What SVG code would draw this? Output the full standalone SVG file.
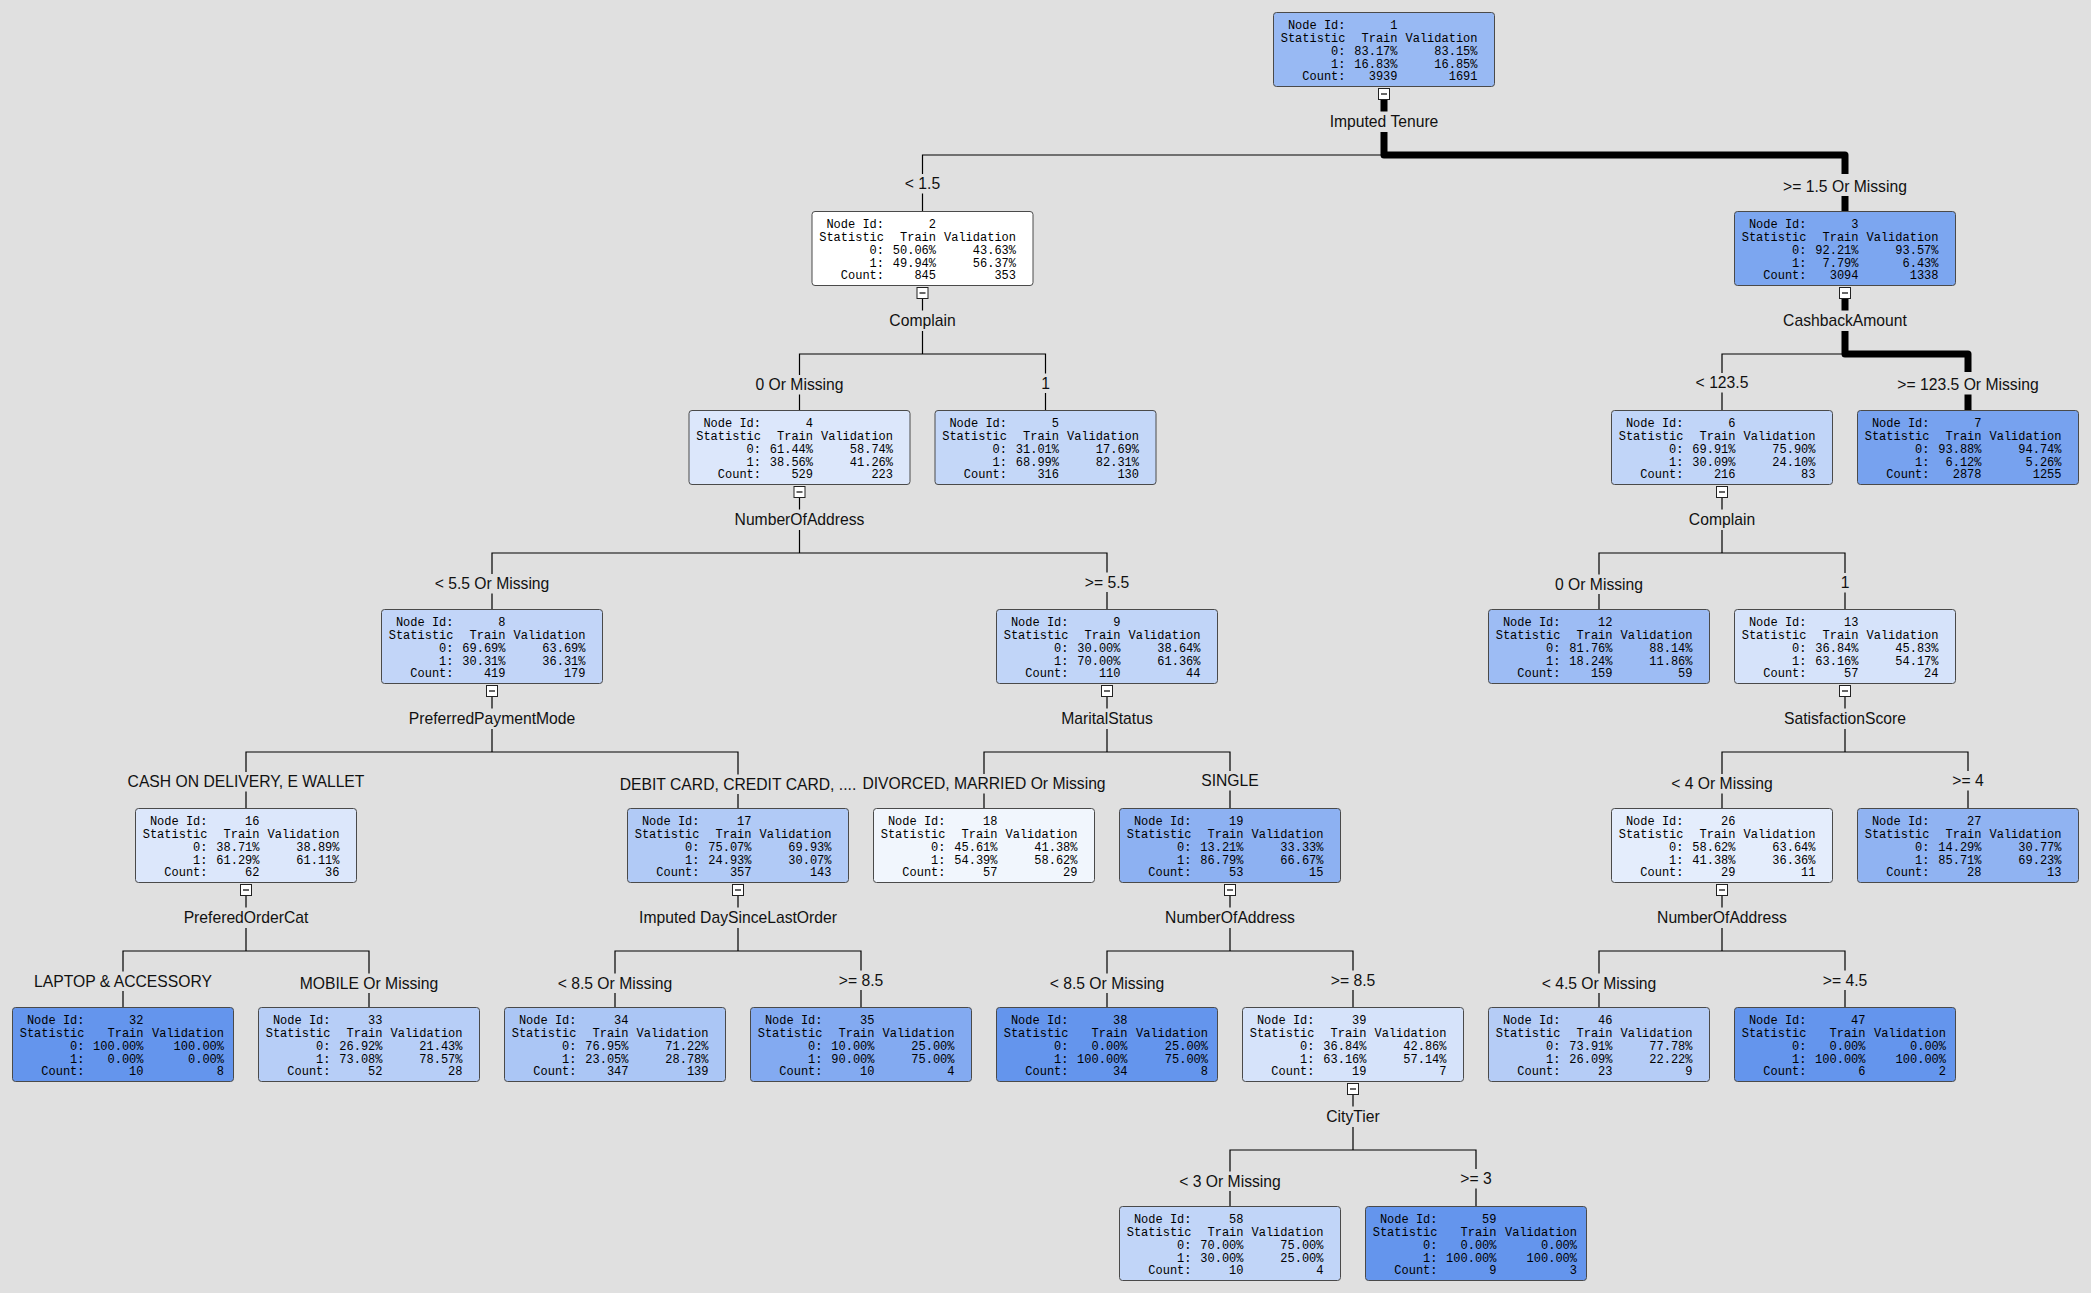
<svg xmlns="http://www.w3.org/2000/svg" width="2091" height="1293" viewBox="0 0 2091 1293">
<style>
.bg{fill:#e0e0e0}
.box{stroke:#4a4a4a;stroke-width:1}
.m{font-family:"Liberation Mono","DejaVu Sans Mono",monospace;font-size:12px;text-anchor:end;fill:#000}
.lbl{font-family:"Liberation Sans",Arial,sans-serif;font-size:15.7px;text-anchor:middle;fill:#111}
.ln{fill:none;stroke:#000;stroke-width:1.2}
.bold{fill:none;stroke:#000;stroke-width:7;stroke-linejoin:round}
.ic{fill:#fff;stroke:#222;stroke-width:1}
.icm{stroke:#000;stroke-width:1.2}
</style>
<rect class="bg" x="0" y="0" width="2091" height="1293"/>

<g id="connectors">
<path class="ln" d="M922.5,174 V155 H1384 M922.5,193.5 V211"/>
<path class="bold" d="M1384,99 V111.5 M1384,132 V155 H1845 V174 M1845,196 V211"/>
<path class="ln" d="M922.5,298 V310.5 M922.5,331 V354 M799.5,375 V354 H1045.5 V373.5 M799.5,394.5 V410 M1045.5,393 V410"/>
<path class="ln" d="M1722,373 V354 H1845 M1722,392.5 V410"/>
<path class="bold" d="M1845,298 V310.5 M1845,331 V354 H1968 V372 M1968,394.5 V410"/>
<path class="ln" d="M799.5,497 V509.5 M799.5,530 V553 M492,574 V553 H1107 V572.5 M492,593.5 V609 M1107,592 V609"/>
<path class="ln" d="M1722,497 V509.5 M1722,530 V553 M1599,574.5 V553 H1845 V573 M1599,594 V609 M1845,592.5 V609"/>
<path class="ln" d="M492,696 V708.5 M492,729 V752 M246,772 V752 H738 V774.5 M246,791.5 V808 M738,794 V808"/>
<path class="ln" d="M1107,696 V708.5 M1107,729 V752 M984,774 V752 H1230 V771 M984,793.5 V808 M1230,790.5 V808"/>
<path class="ln" d="M1845,696 V708.5 M1845,729 V752 M1722,774 V752 H1968 V771 M1722,793.5 V808 M1968,790.5 V808"/>
<path class="ln" d="M246,895 V907.5 M246,928 V951 M123,971.5 V951 H369 V973.5 M123,991 V1007 M369,993 V1007"/>
<path class="ln" d="M738,895 V907.5 M738,928 V951 M615,973.5 V951 H861 V970.5 M615,993 V1007 M861,990 V1007"/>
<path class="ln" d="M1230,895 V907.5 M1230,928 V951 M1107,973.5 V951 H1353 V970.5 M1107,993 V1007 M1353,990 V1007"/>
<path class="ln" d="M1722,895 V907.5 M1722,928 V951 M1599,973.5 V951 H1845 V970.5 M1599,993 V1007 M1845,990 V1007"/>
<path class="ln" d="M1353,1094 V1106.5 M1353,1127 V1150 M1230,1171.5 V1150 H1476 V1169 M1230,1191 V1206 M1476,1188.5 V1206"/>
</g>

<g id="labels">
<text class="lbl" x="1384" y="127">Imputed Tenure</text>
<text class="lbl" x="922.5" y="189">&lt; 1.5</text>
<text class="lbl" x="1845" y="191.5">&gt;= 1.5 Or Missing</text>
<text class="lbl" x="922.5" y="326">Complain</text>
<text class="lbl" x="799.5" y="390">0 Or Missing</text>
<text class="lbl" x="1045.5" y="388.5">1</text>
<text class="lbl" x="1845" y="326">CashbackAmount</text>
<text class="lbl" x="1722" y="388">&lt; 123.5</text>
<text class="lbl" x="1968" y="390">&gt;= 123.5 Or Missing</text>
<text class="lbl" x="799.5" y="525">NumberOfAddress</text>
<text class="lbl" x="492" y="589">&lt; 5.5 Or Missing</text>
<text class="lbl" x="1107" y="587.5">&gt;= 5.5</text>
<text class="lbl" x="1722" y="525">Complain</text>
<text class="lbl" x="1599" y="589.5">0 Or Missing</text>
<text class="lbl" x="1845" y="588">1</text>
<text class="lbl" x="492" y="724">PreferredPaymentMode</text>
<text class="lbl" x="246" y="787">CASH ON DELIVERY, E WALLET</text>
<text class="lbl" x="738" y="789.5">DEBIT CARD, CREDIT CARD, ....</text>
<text class="lbl" x="1107" y="724">MaritalStatus</text>
<text class="lbl" x="984" y="789">DIVORCED, MARRIED Or Missing</text>
<text class="lbl" x="1230" y="786">SINGLE</text>
<text class="lbl" x="1845" y="724">SatisfactionScore</text>
<text class="lbl" x="1722" y="789">&lt; 4 Or Missing</text>
<text class="lbl" x="1968" y="786">&gt;= 4</text>
<text class="lbl" x="246" y="923">PreferedOrderCat</text>
<text class="lbl" x="123" y="986.5">LAPTOP &amp; ACCESSORY</text>
<text class="lbl" x="369" y="988.5">MOBILE Or Missing</text>
<text class="lbl" x="738" y="923">Imputed DaySinceLastOrder</text>
<text class="lbl" x="615" y="988.5">&lt; 8.5 Or Missing</text>
<text class="lbl" x="861" y="985.5">&gt;= 8.5</text>
<text class="lbl" x="1230" y="923">NumberOfAddress</text>
<text class="lbl" x="1107" y="988.5">&lt; 8.5 Or Missing</text>
<text class="lbl" x="1353" y="985.5">&gt;= 8.5</text>
<text class="lbl" x="1722" y="923">NumberOfAddress</text>
<text class="lbl" x="1599" y="988.5">&lt; 4.5 Or Missing</text>
<text class="lbl" x="1845" y="985.5">&gt;= 4.5</text>
<text class="lbl" x="1353" y="1122">CityTier</text>
<text class="lbl" x="1230" y="1186.5">&lt; 3 Or Missing</text>
<text class="lbl" x="1476" y="1184">&gt;= 3</text>
</g>

<g id="node-1" transform="translate(1273,12)">
<rect class="box" x="0.5" y="0.5" width="221" height="74" rx="3" fill="rgb(152,185,243)"/>
<text class="m"><tspan x="72.5" y="16.8">Node Id:</tspan><tspan x="72.5" y="29.7">Statistic</tspan><tspan x="72.5" y="42.6">0:</tspan><tspan x="72.5" y="55.5">1:</tspan><tspan x="72.5" y="68.4">Count:</tspan></text>
<text class="m"><tspan x="124.5" y="16.8">1</tspan><tspan x="124.5" y="29.7">Train</tspan><tspan x="124.5" y="42.6">83.17%</tspan><tspan x="124.5" y="55.5">16.83%</tspan><tspan x="124.5" y="68.4">3939</tspan></text>
<text class="m"><tspan x="204.5" y="29.7">Validation</tspan><tspan x="204.5" y="42.6">83.15%</tspan><tspan x="204.5" y="55.5">16.85%</tspan><tspan x="204.5" y="68.4">1691</tspan></text>
<rect class="ic" x="105.5" y="76.5" width="11" height="11"/><path class="icm" d="M108,82 H114"/>
</g>

<g id="node-2" transform="translate(811.5,211)">
<rect class="box" x="0.5" y="0.5" width="221" height="74" rx="3" fill="rgb(255,255,255)"/>
<text class="m"><tspan x="72.5" y="16.8">Node Id:</tspan><tspan x="72.5" y="29.7">Statistic</tspan><tspan x="72.5" y="42.6">0:</tspan><tspan x="72.5" y="55.5">1:</tspan><tspan x="72.5" y="68.4">Count:</tspan></text>
<text class="m"><tspan x="124.5" y="16.8">2</tspan><tspan x="124.5" y="29.7">Train</tspan><tspan x="124.5" y="42.6">50.06%</tspan><tspan x="124.5" y="55.5">49.94%</tspan><tspan x="124.5" y="68.4">845</tspan></text>
<text class="m"><tspan x="204.5" y="29.7">Validation</tspan><tspan x="204.5" y="42.6">43.63%</tspan><tspan x="204.5" y="55.5">56.37%</tspan><tspan x="204.5" y="68.4">353</tspan></text>
<rect class="ic" x="105.5" y="76.5" width="11" height="11"/><path class="icm" d="M108,82 H114"/>
</g>

<g id="node-3" transform="translate(1734,211)">
<rect class="box" x="0.5" y="0.5" width="221" height="74" rx="3" fill="rgb(124,166,240)"/>
<text class="m"><tspan x="72.5" y="16.8">Node Id:</tspan><tspan x="72.5" y="29.7">Statistic</tspan><tspan x="72.5" y="42.6">0:</tspan><tspan x="72.5" y="55.5">1:</tspan><tspan x="72.5" y="68.4">Count:</tspan></text>
<text class="m"><tspan x="124.5" y="16.8">3</tspan><tspan x="124.5" y="29.7">Train</tspan><tspan x="124.5" y="42.6">92.21%</tspan><tspan x="124.5" y="55.5">7.79%</tspan><tspan x="124.5" y="68.4">3094</tspan></text>
<text class="m"><tspan x="204.5" y="29.7">Validation</tspan><tspan x="204.5" y="42.6">93.57%</tspan><tspan x="204.5" y="55.5">6.43%</tspan><tspan x="204.5" y="68.4">1338</tspan></text>
<rect class="ic" x="105.5" y="76.5" width="11" height="11"/><path class="icm" d="M108,82 H114"/>
</g>

<g id="node-4" transform="translate(688.5,410)">
<rect class="box" x="0.5" y="0.5" width="221" height="74" rx="3" fill="rgb(220,231,251)"/>
<text class="m"><tspan x="72.5" y="16.8">Node Id:</tspan><tspan x="72.5" y="29.7">Statistic</tspan><tspan x="72.5" y="42.6">0:</tspan><tspan x="72.5" y="55.5">1:</tspan><tspan x="72.5" y="68.4">Count:</tspan></text>
<text class="m"><tspan x="124.5" y="16.8">4</tspan><tspan x="124.5" y="29.7">Train</tspan><tspan x="124.5" y="42.6">61.44%</tspan><tspan x="124.5" y="55.5">38.56%</tspan><tspan x="124.5" y="68.4">529</tspan></text>
<text class="m"><tspan x="204.5" y="29.7">Validation</tspan><tspan x="204.5" y="42.6">58.74%</tspan><tspan x="204.5" y="55.5">41.26%</tspan><tspan x="204.5" y="68.4">223</tspan></text>
<rect class="ic" x="105.5" y="76.5" width="11" height="11"/><path class="icm" d="M108,82 H114"/>
</g>

<g id="node-5" transform="translate(934.5,410)">
<rect class="box" x="0.5" y="0.5" width="221" height="74" rx="3" fill="rgb(196,215,248)"/>
<text class="m"><tspan x="72.5" y="16.8">Node Id:</tspan><tspan x="72.5" y="29.7">Statistic</tspan><tspan x="72.5" y="42.6">0:</tspan><tspan x="72.5" y="55.5">1:</tspan><tspan x="72.5" y="68.4">Count:</tspan></text>
<text class="m"><tspan x="124.5" y="16.8">5</tspan><tspan x="124.5" y="29.7">Train</tspan><tspan x="124.5" y="42.6">31.01%</tspan><tspan x="124.5" y="55.5">68.99%</tspan><tspan x="124.5" y="68.4">316</tspan></text>
<text class="m"><tspan x="204.5" y="29.7">Validation</tspan><tspan x="204.5" y="42.6">17.69%</tspan><tspan x="204.5" y="55.5">82.31%</tspan><tspan x="204.5" y="68.4">130</tspan></text>
</g>

<g id="node-6" transform="translate(1611,410)">
<rect class="box" x="0.5" y="0.5" width="221" height="74" rx="3" fill="rgb(193,213,248)"/>
<text class="m"><tspan x="72.5" y="16.8">Node Id:</tspan><tspan x="72.5" y="29.7">Statistic</tspan><tspan x="72.5" y="42.6">0:</tspan><tspan x="72.5" y="55.5">1:</tspan><tspan x="72.5" y="68.4">Count:</tspan></text>
<text class="m"><tspan x="124.5" y="16.8">6</tspan><tspan x="124.5" y="29.7">Train</tspan><tspan x="124.5" y="42.6">69.91%</tspan><tspan x="124.5" y="55.5">30.09%</tspan><tspan x="124.5" y="68.4">216</tspan></text>
<text class="m"><tspan x="204.5" y="29.7">Validation</tspan><tspan x="204.5" y="42.6">75.90%</tspan><tspan x="204.5" y="55.5">24.10%</tspan><tspan x="204.5" y="68.4">83</tspan></text>
<rect class="ic" x="105.5" y="76.5" width="11" height="11"/><path class="icm" d="M108,82 H114"/>
</g>

<g id="node-7" transform="translate(1857,410)">
<rect class="box" x="0.5" y="0.5" width="221" height="74" rx="3" fill="rgb(119,162,239)"/>
<text class="m"><tspan x="72.5" y="16.8">Node Id:</tspan><tspan x="72.5" y="29.7">Statistic</tspan><tspan x="72.5" y="42.6">0:</tspan><tspan x="72.5" y="55.5">1:</tspan><tspan x="72.5" y="68.4">Count:</tspan></text>
<text class="m"><tspan x="124.5" y="16.8">7</tspan><tspan x="124.5" y="29.7">Train</tspan><tspan x="124.5" y="42.6">93.88%</tspan><tspan x="124.5" y="55.5">6.12%</tspan><tspan x="124.5" y="68.4">2878</tspan></text>
<text class="m"><tspan x="204.5" y="29.7">Validation</tspan><tspan x="204.5" y="42.6">94.74%</tspan><tspan x="204.5" y="55.5">5.26%</tspan><tspan x="204.5" y="68.4">1255</tspan></text>
</g>

<g id="node-8" transform="translate(381,609)">
<rect class="box" x="0.5" y="0.5" width="221" height="74" rx="3" fill="rgb(194,213,248)"/>
<text class="m"><tspan x="72.5" y="16.8">Node Id:</tspan><tspan x="72.5" y="29.7">Statistic</tspan><tspan x="72.5" y="42.6">0:</tspan><tspan x="72.5" y="55.5">1:</tspan><tspan x="72.5" y="68.4">Count:</tspan></text>
<text class="m"><tspan x="124.5" y="16.8">8</tspan><tspan x="124.5" y="29.7">Train</tspan><tspan x="124.5" y="42.6">69.69%</tspan><tspan x="124.5" y="55.5">30.31%</tspan><tspan x="124.5" y="68.4">419</tspan></text>
<text class="m"><tspan x="204.5" y="29.7">Validation</tspan><tspan x="204.5" y="42.6">63.69%</tspan><tspan x="204.5" y="55.5">36.31%</tspan><tspan x="204.5" y="68.4">179</tspan></text>
<rect class="ic" x="105.5" y="76.5" width="11" height="11"/><path class="icm" d="M108,82 H114"/>
</g>

<g id="node-9" transform="translate(996,609)">
<rect class="box" x="0.5" y="0.5" width="221" height="74" rx="3" fill="rgb(193,213,248)"/>
<text class="m"><tspan x="72.5" y="16.8">Node Id:</tspan><tspan x="72.5" y="29.7">Statistic</tspan><tspan x="72.5" y="42.6">0:</tspan><tspan x="72.5" y="55.5">1:</tspan><tspan x="72.5" y="68.4">Count:</tspan></text>
<text class="m"><tspan x="124.5" y="16.8">9</tspan><tspan x="124.5" y="29.7">Train</tspan><tspan x="124.5" y="42.6">30.00%</tspan><tspan x="124.5" y="55.5">70.00%</tspan><tspan x="124.5" y="68.4">110</tspan></text>
<text class="m"><tspan x="204.5" y="29.7">Validation</tspan><tspan x="204.5" y="42.6">38.64%</tspan><tspan x="204.5" y="55.5">61.36%</tspan><tspan x="204.5" y="68.4">44</tspan></text>
<rect class="ic" x="105.5" y="76.5" width="11" height="11"/><path class="icm" d="M108,82 H114"/>
</g>

<g id="node-12" transform="translate(1488,609)">
<rect class="box" x="0.5" y="0.5" width="221" height="74" rx="3" fill="rgb(157,188,244)"/>
<text class="m"><tspan x="72.5" y="16.8">Node Id:</tspan><tspan x="72.5" y="29.7">Statistic</tspan><tspan x="72.5" y="42.6">0:</tspan><tspan x="72.5" y="55.5">1:</tspan><tspan x="72.5" y="68.4">Count:</tspan></text>
<text class="m"><tspan x="124.5" y="16.8">12</tspan><tspan x="124.5" y="29.7">Train</tspan><tspan x="124.5" y="42.6">81.76%</tspan><tspan x="124.5" y="55.5">18.24%</tspan><tspan x="124.5" y="68.4">159</tspan></text>
<text class="m"><tspan x="204.5" y="29.7">Validation</tspan><tspan x="204.5" y="42.6">88.14%</tspan><tspan x="204.5" y="55.5">11.86%</tspan><tspan x="204.5" y="68.4">59</tspan></text>
</g>

<g id="node-13" transform="translate(1734,609)">
<rect class="box" x="0.5" y="0.5" width="221" height="74" rx="3" fill="rgb(214,227,250)"/>
<text class="m"><tspan x="72.5" y="16.8">Node Id:</tspan><tspan x="72.5" y="29.7">Statistic</tspan><tspan x="72.5" y="42.6">0:</tspan><tspan x="72.5" y="55.5">1:</tspan><tspan x="72.5" y="68.4">Count:</tspan></text>
<text class="m"><tspan x="124.5" y="16.8">13</tspan><tspan x="124.5" y="29.7">Train</tspan><tspan x="124.5" y="42.6">36.84%</tspan><tspan x="124.5" y="55.5">63.16%</tspan><tspan x="124.5" y="68.4">57</tspan></text>
<text class="m"><tspan x="204.5" y="29.7">Validation</tspan><tspan x="204.5" y="42.6">45.83%</tspan><tspan x="204.5" y="55.5">54.17%</tspan><tspan x="204.5" y="68.4">24</tspan></text>
<rect class="ic" x="105.5" y="76.5" width="11" height="11"/><path class="icm" d="M108,82 H114"/>
</g>

<g id="node-16" transform="translate(135,808)">
<rect class="box" x="0.5" y="0.5" width="221" height="74" rx="3" fill="rgb(220,231,251)"/>
<text class="m"><tspan x="72.5" y="16.8">Node Id:</tspan><tspan x="72.5" y="29.7">Statistic</tspan><tspan x="72.5" y="42.6">0:</tspan><tspan x="72.5" y="55.5">1:</tspan><tspan x="72.5" y="68.4">Count:</tspan></text>
<text class="m"><tspan x="124.5" y="16.8">16</tspan><tspan x="124.5" y="29.7">Train</tspan><tspan x="124.5" y="42.6">38.71%</tspan><tspan x="124.5" y="55.5">61.29%</tspan><tspan x="124.5" y="68.4">62</tspan></text>
<text class="m"><tspan x="204.5" y="29.7">Validation</tspan><tspan x="204.5" y="42.6">38.89%</tspan><tspan x="204.5" y="55.5">61.11%</tspan><tspan x="204.5" y="68.4">36</tspan></text>
<rect class="ic" x="105.5" y="76.5" width="11" height="11"/><path class="icm" d="M108,82 H114"/>
</g>

<g id="node-17" transform="translate(627,808)">
<rect class="box" x="0.5" y="0.5" width="221" height="74" rx="3" fill="rgb(177,202,246)"/>
<text class="m"><tspan x="72.5" y="16.8">Node Id:</tspan><tspan x="72.5" y="29.7">Statistic</tspan><tspan x="72.5" y="42.6">0:</tspan><tspan x="72.5" y="55.5">1:</tspan><tspan x="72.5" y="68.4">Count:</tspan></text>
<text class="m"><tspan x="124.5" y="16.8">17</tspan><tspan x="124.5" y="29.7">Train</tspan><tspan x="124.5" y="42.6">75.07%</tspan><tspan x="124.5" y="55.5">24.93%</tspan><tspan x="124.5" y="68.4">357</tspan></text>
<text class="m"><tspan x="204.5" y="29.7">Validation</tspan><tspan x="204.5" y="42.6">69.93%</tspan><tspan x="204.5" y="55.5">30.07%</tspan><tspan x="204.5" y="68.4">143</tspan></text>
<rect class="ic" x="105.5" y="76.5" width="11" height="11"/><path class="icm" d="M108,82 H114"/>
</g>

<g id="node-18" transform="translate(873,808)">
<rect class="box" x="0.5" y="0.5" width="221" height="74" rx="3" fill="rgb(241,246,253)"/>
<text class="m"><tspan x="72.5" y="16.8">Node Id:</tspan><tspan x="72.5" y="29.7">Statistic</tspan><tspan x="72.5" y="42.6">0:</tspan><tspan x="72.5" y="55.5">1:</tspan><tspan x="72.5" y="68.4">Count:</tspan></text>
<text class="m"><tspan x="124.5" y="16.8">18</tspan><tspan x="124.5" y="29.7">Train</tspan><tspan x="124.5" y="42.6">45.61%</tspan><tspan x="124.5" y="55.5">54.39%</tspan><tspan x="124.5" y="68.4">57</tspan></text>
<text class="m"><tspan x="204.5" y="29.7">Validation</tspan><tspan x="204.5" y="42.6">41.38%</tspan><tspan x="204.5" y="55.5">58.62%</tspan><tspan x="204.5" y="68.4">29</tspan></text>
</g>

<g id="node-19" transform="translate(1119,808)">
<rect class="box" x="0.5" y="0.5" width="221" height="74" rx="3" fill="rgb(141,177,242)"/>
<text class="m"><tspan x="72.5" y="16.8">Node Id:</tspan><tspan x="72.5" y="29.7">Statistic</tspan><tspan x="72.5" y="42.6">0:</tspan><tspan x="72.5" y="55.5">1:</tspan><tspan x="72.5" y="68.4">Count:</tspan></text>
<text class="m"><tspan x="124.5" y="16.8">19</tspan><tspan x="124.5" y="29.7">Train</tspan><tspan x="124.5" y="42.6">13.21%</tspan><tspan x="124.5" y="55.5">86.79%</tspan><tspan x="124.5" y="68.4">53</tspan></text>
<text class="m"><tspan x="204.5" y="29.7">Validation</tspan><tspan x="204.5" y="42.6">33.33%</tspan><tspan x="204.5" y="55.5">66.67%</tspan><tspan x="204.5" y="68.4">15</tspan></text>
<rect class="ic" x="105.5" y="76.5" width="11" height="11"/><path class="icm" d="M108,82 H114"/>
</g>

<g id="node-26" transform="translate(1611,808)">
<rect class="box" x="0.5" y="0.5" width="221" height="74" rx="3" fill="rgb(228,237,252)"/>
<text class="m"><tspan x="72.5" y="16.8">Node Id:</tspan><tspan x="72.5" y="29.7">Statistic</tspan><tspan x="72.5" y="42.6">0:</tspan><tspan x="72.5" y="55.5">1:</tspan><tspan x="72.5" y="68.4">Count:</tspan></text>
<text class="m"><tspan x="124.5" y="16.8">26</tspan><tspan x="124.5" y="29.7">Train</tspan><tspan x="124.5" y="42.6">58.62%</tspan><tspan x="124.5" y="55.5">41.38%</tspan><tspan x="124.5" y="68.4">29</tspan></text>
<text class="m"><tspan x="204.5" y="29.7">Validation</tspan><tspan x="204.5" y="42.6">63.64%</tspan><tspan x="204.5" y="55.5">36.36%</tspan><tspan x="204.5" y="68.4">11</tspan></text>
<rect class="ic" x="105.5" y="76.5" width="11" height="11"/><path class="icm" d="M108,82 H114"/>
</g>

<g id="node-27" transform="translate(1857,808)">
<rect class="box" x="0.5" y="0.5" width="221" height="74" rx="3" fill="rgb(144,179,242)"/>
<text class="m"><tspan x="72.5" y="16.8">Node Id:</tspan><tspan x="72.5" y="29.7">Statistic</tspan><tspan x="72.5" y="42.6">0:</tspan><tspan x="72.5" y="55.5">1:</tspan><tspan x="72.5" y="68.4">Count:</tspan></text>
<text class="m"><tspan x="124.5" y="16.8">27</tspan><tspan x="124.5" y="29.7">Train</tspan><tspan x="124.5" y="42.6">14.29%</tspan><tspan x="124.5" y="55.5">85.71%</tspan><tspan x="124.5" y="68.4">28</tspan></text>
<text class="m"><tspan x="204.5" y="29.7">Validation</tspan><tspan x="204.5" y="42.6">30.77%</tspan><tspan x="204.5" y="55.5">69.23%</tspan><tspan x="204.5" y="68.4">13</tspan></text>
</g>

<g id="node-32" transform="translate(12,1007)">
<rect class="box" x="0.5" y="0.5" width="221" height="74" rx="3" fill="rgb(100,149,237)"/>
<text class="m"><tspan x="72.5" y="16.8">Node Id:</tspan><tspan x="72.5" y="29.7">Statistic</tspan><tspan x="72.5" y="42.6">0:</tspan><tspan x="72.5" y="55.5">1:</tspan><tspan x="72.5" y="68.4">Count:</tspan></text>
<text class="m"><tspan x="131.5" y="16.8">32</tspan><tspan x="131.5" y="29.7">Train</tspan><tspan x="131.5" y="42.6">100.00%</tspan><tspan x="131.5" y="55.5">0.00%</tspan><tspan x="131.5" y="68.4">10</tspan></text>
<text class="m"><tspan x="212" y="29.7">Validation</tspan><tspan x="212" y="42.6">100.00%</tspan><tspan x="212" y="55.5">0.00%</tspan><tspan x="212" y="68.4">8</tspan></text>
</g>

<g id="node-33" transform="translate(258,1007)">
<rect class="box" x="0.5" y="0.5" width="221" height="74" rx="3" fill="rgb(183,206,247)"/>
<text class="m"><tspan x="72.5" y="16.8">Node Id:</tspan><tspan x="72.5" y="29.7">Statistic</tspan><tspan x="72.5" y="42.6">0:</tspan><tspan x="72.5" y="55.5">1:</tspan><tspan x="72.5" y="68.4">Count:</tspan></text>
<text class="m"><tspan x="124.5" y="16.8">33</tspan><tspan x="124.5" y="29.7">Train</tspan><tspan x="124.5" y="42.6">26.92%</tspan><tspan x="124.5" y="55.5">73.08%</tspan><tspan x="124.5" y="68.4">52</tspan></text>
<text class="m"><tspan x="204.5" y="29.7">Validation</tspan><tspan x="204.5" y="42.6">21.43%</tspan><tspan x="204.5" y="55.5">78.57%</tspan><tspan x="204.5" y="68.4">28</tspan></text>
</g>

<g id="node-34" transform="translate(504,1007)">
<rect class="box" x="0.5" y="0.5" width="221" height="74" rx="3" fill="rgb(171,198,245)"/>
<text class="m"><tspan x="72.5" y="16.8">Node Id:</tspan><tspan x="72.5" y="29.7">Statistic</tspan><tspan x="72.5" y="42.6">0:</tspan><tspan x="72.5" y="55.5">1:</tspan><tspan x="72.5" y="68.4">Count:</tspan></text>
<text class="m"><tspan x="124.5" y="16.8">34</tspan><tspan x="124.5" y="29.7">Train</tspan><tspan x="124.5" y="42.6">76.95%</tspan><tspan x="124.5" y="55.5">23.05%</tspan><tspan x="124.5" y="68.4">347</tspan></text>
<text class="m"><tspan x="204.5" y="29.7">Validation</tspan><tspan x="204.5" y="42.6">71.22%</tspan><tspan x="204.5" y="55.5">28.78%</tspan><tspan x="204.5" y="68.4">139</tspan></text>
</g>

<g id="node-35" transform="translate(750,1007)">
<rect class="box" x="0.5" y="0.5" width="221" height="74" rx="3" fill="rgb(131,170,241)"/>
<text class="m"><tspan x="72.5" y="16.8">Node Id:</tspan><tspan x="72.5" y="29.7">Statistic</tspan><tspan x="72.5" y="42.6">0:</tspan><tspan x="72.5" y="55.5">1:</tspan><tspan x="72.5" y="68.4">Count:</tspan></text>
<text class="m"><tspan x="124.5" y="16.8">35</tspan><tspan x="124.5" y="29.7">Train</tspan><tspan x="124.5" y="42.6">10.00%</tspan><tspan x="124.5" y="55.5">90.00%</tspan><tspan x="124.5" y="68.4">10</tspan></text>
<text class="m"><tspan x="204.5" y="29.7">Validation</tspan><tspan x="204.5" y="42.6">25.00%</tspan><tspan x="204.5" y="55.5">75.00%</tspan><tspan x="204.5" y="68.4">4</tspan></text>
</g>

<g id="node-38" transform="translate(996,1007)">
<rect class="box" x="0.5" y="0.5" width="221" height="74" rx="3" fill="rgb(100,149,237)"/>
<text class="m"><tspan x="72.5" y="16.8">Node Id:</tspan><tspan x="72.5" y="29.7">Statistic</tspan><tspan x="72.5" y="42.6">0:</tspan><tspan x="72.5" y="55.5">1:</tspan><tspan x="72.5" y="68.4">Count:</tspan></text>
<text class="m"><tspan x="131.5" y="16.8">38</tspan><tspan x="131.5" y="29.7">Train</tspan><tspan x="131.5" y="42.6">0.00%</tspan><tspan x="131.5" y="55.5">100.00%</tspan><tspan x="131.5" y="68.4">34</tspan></text>
<text class="m"><tspan x="212" y="29.7">Validation</tspan><tspan x="212" y="42.6">25.00%</tspan><tspan x="212" y="55.5">75.00%</tspan><tspan x="212" y="68.4">8</tspan></text>
</g>

<g id="node-39" transform="translate(1242,1007)">
<rect class="box" x="0.5" y="0.5" width="221" height="74" rx="3" fill="rgb(214,227,250)"/>
<text class="m"><tspan x="72.5" y="16.8">Node Id:</tspan><tspan x="72.5" y="29.7">Statistic</tspan><tspan x="72.5" y="42.6">0:</tspan><tspan x="72.5" y="55.5">1:</tspan><tspan x="72.5" y="68.4">Count:</tspan></text>
<text class="m"><tspan x="124.5" y="16.8">39</tspan><tspan x="124.5" y="29.7">Train</tspan><tspan x="124.5" y="42.6">36.84%</tspan><tspan x="124.5" y="55.5">63.16%</tspan><tspan x="124.5" y="68.4">19</tspan></text>
<text class="m"><tspan x="204.5" y="29.7">Validation</tspan><tspan x="204.5" y="42.6">42.86%</tspan><tspan x="204.5" y="55.5">57.14%</tspan><tspan x="204.5" y="68.4">7</tspan></text>
<rect class="ic" x="105.5" y="76.5" width="11" height="11"/><path class="icm" d="M108,82 H114"/>
</g>

<g id="node-46" transform="translate(1488,1007)">
<rect class="box" x="0.5" y="0.5" width="221" height="74" rx="3" fill="rgb(181,204,246)"/>
<text class="m"><tspan x="72.5" y="16.8">Node Id:</tspan><tspan x="72.5" y="29.7">Statistic</tspan><tspan x="72.5" y="42.6">0:</tspan><tspan x="72.5" y="55.5">1:</tspan><tspan x="72.5" y="68.4">Count:</tspan></text>
<text class="m"><tspan x="124.5" y="16.8">46</tspan><tspan x="124.5" y="29.7">Train</tspan><tspan x="124.5" y="42.6">73.91%</tspan><tspan x="124.5" y="55.5">26.09%</tspan><tspan x="124.5" y="68.4">23</tspan></text>
<text class="m"><tspan x="204.5" y="29.7">Validation</tspan><tspan x="204.5" y="42.6">77.78%</tspan><tspan x="204.5" y="55.5">22.22%</tspan><tspan x="204.5" y="68.4">9</tspan></text>
</g>

<g id="node-47" transform="translate(1734,1007)">
<rect class="box" x="0.5" y="0.5" width="221" height="74" rx="3" fill="rgb(100,149,237)"/>
<text class="m"><tspan x="72.5" y="16.8">Node Id:</tspan><tspan x="72.5" y="29.7">Statistic</tspan><tspan x="72.5" y="42.6">0:</tspan><tspan x="72.5" y="55.5">1:</tspan><tspan x="72.5" y="68.4">Count:</tspan></text>
<text class="m"><tspan x="131.5" y="16.8">47</tspan><tspan x="131.5" y="29.7">Train</tspan><tspan x="131.5" y="42.6">0.00%</tspan><tspan x="131.5" y="55.5">100.00%</tspan><tspan x="131.5" y="68.4">6</tspan></text>
<text class="m"><tspan x="212" y="29.7">Validation</tspan><tspan x="212" y="42.6">0.00%</tspan><tspan x="212" y="55.5">100.00%</tspan><tspan x="212" y="68.4">2</tspan></text>
</g>

<g id="node-58" transform="translate(1119,1206)">
<rect class="box" x="0.5" y="0.5" width="221" height="74" rx="3" fill="rgb(193,213,248)"/>
<text class="m"><tspan x="72.5" y="16.8">Node Id:</tspan><tspan x="72.5" y="29.7">Statistic</tspan><tspan x="72.5" y="42.6">0:</tspan><tspan x="72.5" y="55.5">1:</tspan><tspan x="72.5" y="68.4">Count:</tspan></text>
<text class="m"><tspan x="124.5" y="16.8">58</tspan><tspan x="124.5" y="29.7">Train</tspan><tspan x="124.5" y="42.6">70.00%</tspan><tspan x="124.5" y="55.5">30.00%</tspan><tspan x="124.5" y="68.4">10</tspan></text>
<text class="m"><tspan x="204.5" y="29.7">Validation</tspan><tspan x="204.5" y="42.6">75.00%</tspan><tspan x="204.5" y="55.5">25.00%</tspan><tspan x="204.5" y="68.4">4</tspan></text>
</g>

<g id="node-59" transform="translate(1365,1206)">
<rect class="box" x="0.5" y="0.5" width="221" height="74" rx="3" fill="rgb(100,149,237)"/>
<text class="m"><tspan x="72.5" y="16.8">Node Id:</tspan><tspan x="72.5" y="29.7">Statistic</tspan><tspan x="72.5" y="42.6">0:</tspan><tspan x="72.5" y="55.5">1:</tspan><tspan x="72.5" y="68.4">Count:</tspan></text>
<text class="m"><tspan x="131.5" y="16.8">59</tspan><tspan x="131.5" y="29.7">Train</tspan><tspan x="131.5" y="42.6">0.00%</tspan><tspan x="131.5" y="55.5">100.00%</tspan><tspan x="131.5" y="68.4">9</tspan></text>
<text class="m"><tspan x="212" y="29.7">Validation</tspan><tspan x="212" y="42.6">0.00%</tspan><tspan x="212" y="55.5">100.00%</tspan><tspan x="212" y="68.4">3</tspan></text>
</g>
</svg>
